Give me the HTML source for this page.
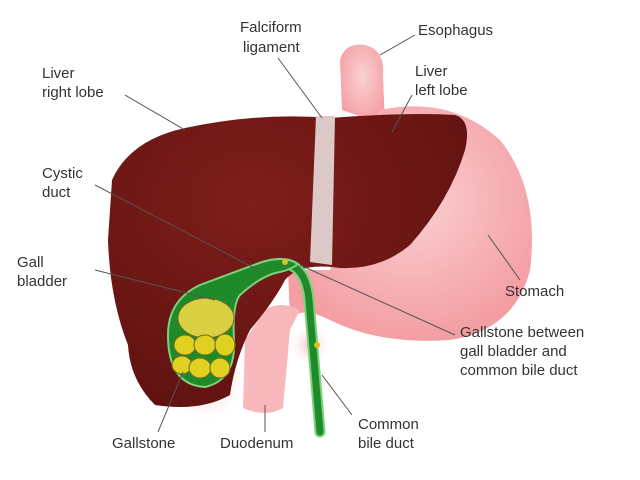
<!DOCTYPE html>
<html><head><style>
html,body{margin:0;padding:0;background:#fff;}
svg{display:block;}
text{font-family:"Liberation Sans",sans-serif;font-size:15px;fill:#333;}
</style></head><body>
<svg width="640" height="480" viewBox="0 0 640 480">
<defs>
<radialGradient id="st" cx="0.5" cy="0.4" r="0.6">
<stop offset="0" stop-color="#fbd0d2"/><stop offset="1" stop-color="#f39ea3"/>
</radialGradient>
<radialGradient id="lv" cx="0.4" cy="0.3" r="0.8">
<stop offset="0" stop-color="#7e1d1a"/><stop offset="1" stop-color="#5e1210"/>
</radialGradient>
<radialGradient id="glow" cx="0.5" cy="0.5" r="0.5">
<stop offset="0" stop-color="#f7b0b0" stop-opacity="0.8"/><stop offset="1" stop-color="#fff" stop-opacity="0"/>
</radialGradient>
</defs>
<path d="M342,110 L340,60 Q345,42 365,45 Q385,50 383,75 L385,125 Z" fill="url(#st)"/>
<path d="M380,110 Q450,95 500,140 Q540,190 530,270 Q515,330 450,340 Q380,345 330,320 Q300,305 290,320 L288,270 L330,270 Z" fill="url(#st)"/>
<path d="M265,310 Q280,300 300,310 L290,330 L283,408 Q265,418 243,408 L245,340 Z" fill="#f8b8bb"/>
<circle cx="310" cy="345" r="22" fill="url(#glow)"/>
<circle cx="205" cy="380" r="45" fill="url(#glow)"/>
<path d="M112,180 Q130,140 185,128 Q260,112 330,118 Q410,112 455,115 Q472,120 465,150 Q450,200 410,245 Q380,270 340,268 Q300,262 285,280 Q275,300 250,330 Q235,360 230,395 Q200,412 155,405 Q130,380 128,345 Q110,300 108,240 Z" fill="url(#lv)"/>
<path d="M316,116 L335,116 L332,265 L310,262 Z" fill="#ddc8c8"/>
<path d="M287,264 Q306,268 309,300 L320,432" fill="none" stroke="#7ed07a" stroke-width="11" stroke-linecap="round"/>
<path d="M287,264 Q306,268 309,300 L320,432" fill="none" stroke="#1f8a2a" stroke-width="7" stroke-linecap="round"/>
<path d="M168,335 Q168,300 200,285 Q240,270 262,262 Q285,255 298,264 Q290,270 280,272 Q262,275 240,295 Q232,305 234,340 Q236,380 205,387 Q168,385 168,335 Z" fill="#1f8a2a" stroke="#7ed07a" stroke-width="2"/>
<ellipse cx="206" cy="318" rx="28" ry="20" fill="#d8d040" stroke="#6a6a20"/>
<g fill="#e0d020" stroke="#6a6a20">
<ellipse cx="185" cy="345" rx="11" ry="10"/><ellipse cx="205" cy="345" rx="11" ry="10"/><ellipse cx="225" cy="345" rx="10" ry="11"/>
<ellipse cx="182" cy="365" rx="10" ry="9"/><ellipse cx="200" cy="368" rx="11" ry="10"/><ellipse cx="220" cy="368" rx="10" ry="10"/>
</g>
<circle cx="285" cy="262" r="3" fill="#e0c020"/>
<circle cx="317" cy="345" r="3" fill="#e0c020"/>
<g stroke="#555" stroke-width="1" fill="none">
<line x1="125" y1="95" x2="185" y2="130"/>
<line x1="278" y1="58" x2="322" y2="118"/>
<line x1="415" y1="35" x2="380" y2="55"/>
<line x1="412" y1="95" x2="392" y2="132"/>
<line x1="95" y1="185" x2="258" y2="270"/>
<line x1="95" y1="270" x2="215" y2="300"/>
<line x1="488" y1="235" x2="520" y2="280"/>
<line x1="300" y1="265" x2="455" y2="335"/>
<line x1="183" y1="372" x2="158" y2="432"/>
<line x1="265" y1="405" x2="265" y2="432"/>
<line x1="322" y1="375" x2="352" y2="415"/>
</g>
<text x="240" y="32">Falciform</text><text x="243" y="52">ligament</text>
<text x="418" y="35">Esophagus</text>
<text x="42" y="78">Liver</text><text x="42" y="97">right lobe</text>
<text x="415" y="76">Liver</text><text x="415" y="95">left lobe</text>
<text x="42" y="178">Cystic</text><text x="42" y="197">duct</text>
<text x="17" y="267">Gall</text><text x="17" y="286">bladder</text>
<text x="505" y="296">Stomach</text>
<text x="460" y="337">Gallstone between</text><text x="460" y="356">gall bladder and</text><text x="460" y="375">common bile duct</text>
<text x="358" y="429">Common</text><text x="358" y="448">bile duct</text>
<text x="112" y="448">Gallstone</text>
<text x="220" y="448">Duodenum</text>
</svg>
</body></html>
